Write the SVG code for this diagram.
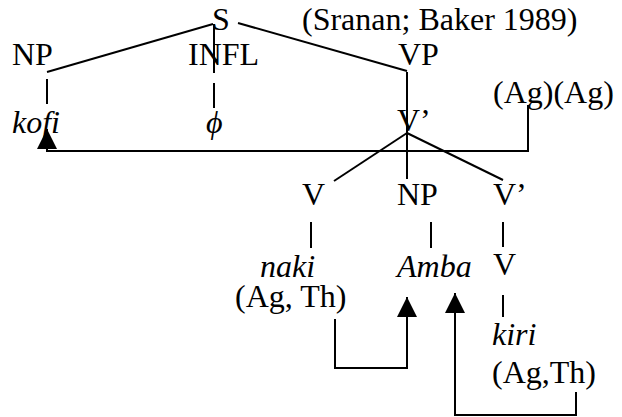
<svg xmlns="http://www.w3.org/2000/svg" width="622" height="417" viewBox="0 0 622 417">
<style>
text{font-family:"Liberation Serif","Times New Roman",serif;font-size:32px;fill:#000}
.it{font-style:italic}
.ln{stroke:#000;stroke-width:2;fill:none}
</style>
<defs>
<marker id="ah" markerUnits="userSpaceOnUse" viewBox="0 0 20 20" refX="20" refY="10" markerWidth="20" markerHeight="20" orient="auto">
<path d="M0,0 L20,10 L0,20 z" fill="#000"/>
</marker>
</defs>
<rect width="622" height="417" fill="#fff"/>
<g id="connectors">
<line class="ln" x1="213" y1="24" x2="47" y2="72"/>
<line class="ln" x1="214" y1="24" x2="214" y2="73"/>
<line class="ln" x1="214" y1="83" x2="214" y2="108"/>
<line class="ln" x1="238" y1="23" x2="407" y2="71"/>
<line class="ln" x1="47" y1="79" x2="47" y2="104"/>
<line class="ln" x1="407" y1="72" x2="407" y2="133"/>
<line class="ln" x1="407" y1="133" x2="334" y2="181"/>
<line class="ln" x1="407" y1="133" x2="407" y2="179"/>
<line class="ln" x1="407" y1="133" x2="503" y2="180"/>
<line class="ln" x1="311" y1="222" x2="311" y2="248"/>
<line class="ln" x1="431" y1="222" x2="431" y2="248"/>
<line class="ln" x1="503" y1="222" x2="503" y2="247"/>
<line class="ln" x1="503" y1="295" x2="503" y2="317"/>
<polyline class="ln" points="528,105 528,151 47,151 47,129" marker-end="url(#ah)"/>
<polyline class="ln" points="335,319 335,368 407,368 407,297" marker-end="url(#ah)"/>
<polyline class="ln" points="576,392 576,415 455,415 455,293" marker-end="url(#ah)"/>
</g>
<g id="S"><text x="212" y="30">S</text></g>
<g id="source"><text x="302" y="30">(Sranan; Baker 1989)</text></g>
<g id="NP1"><text x="12" y="65">NP</text></g>
<g id="INFL"><text x="188" y="65">INFL</text></g>
<g id="VP"><text x="398" y="65">VP</text></g>
<g id="AgAg"><text x="493" y="103">(Ag)(Ag)</text></g>
<g id="kofi"><text class="it" x="12" y="133">kofi</text></g>
<g id="phi"><text class="it" x="206" y="133">ϕ</text></g>
<g id="Vbar1"><text x="397" y="131">V’</text></g>
<g id="V1"><text x="302" y="205">V</text></g>
<g id="NP2"><text x="397" y="205">NP</text></g>
<g id="Vbar2"><text x="493" y="205">V’</text></g>
<g id="naki"><text class="it" x="260" y="277">naki</text></g>
<g id="Amba"><text class="it" x="397" y="277">Amba</text></g>
<g id="V2"><text x="493" y="275">V</text></g>
<g id="nakiTheta"><text x="235" y="307">(Ag, Th)</text></g>
<g id="kiri"><text class="it" x="492" y="345">kiri</text></g>
<g id="kiriTheta"><text x="492" y="383">(Ag,Th)</text></g>
</svg>
